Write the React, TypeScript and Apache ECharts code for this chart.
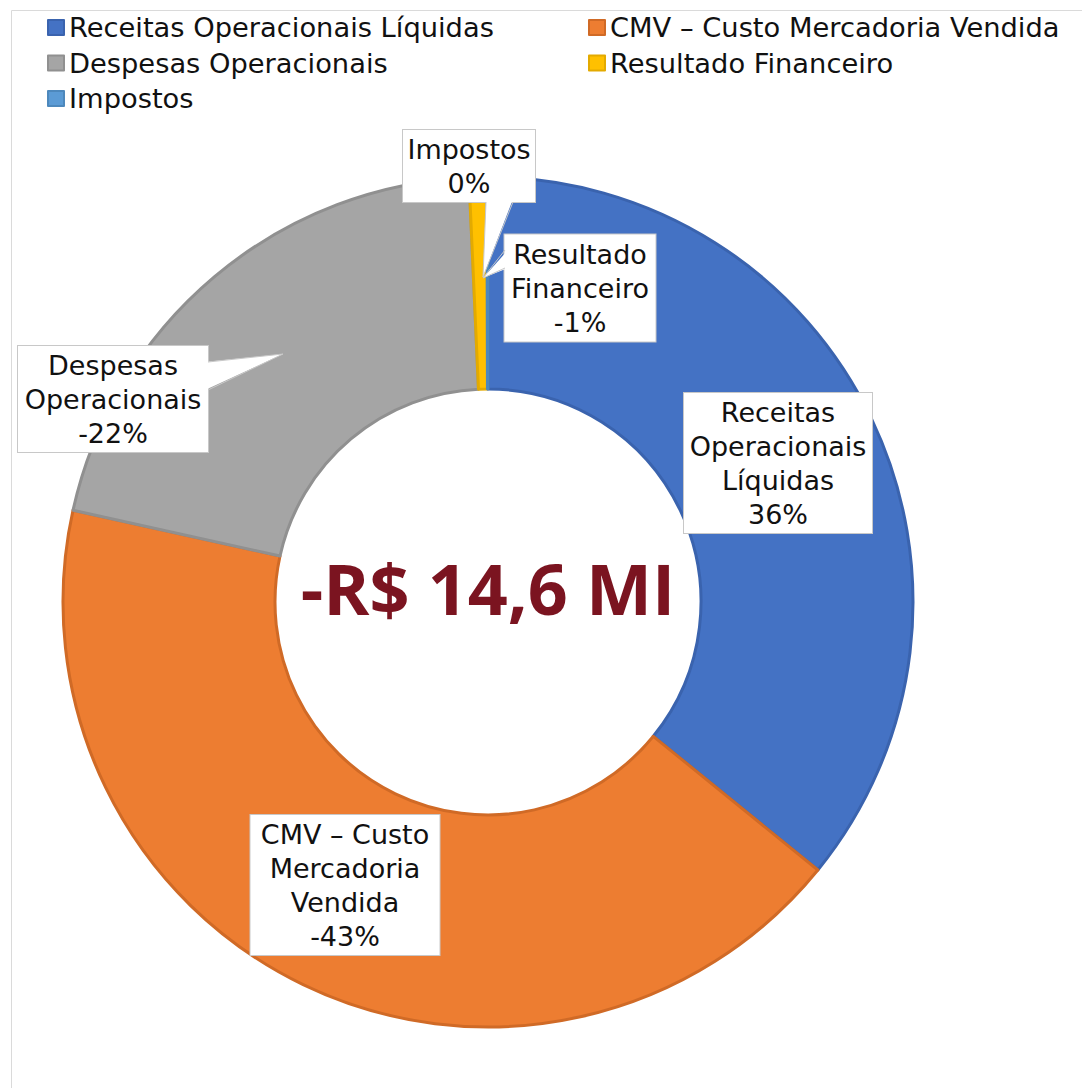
import React, { useEffect, useRef } from "react";
import * as echarts from "echarts";

// ---- data ----
const categories = [
  "Receitas Operacionais Líquidas",
  "CMV – Custo Mercadoria Vendida",
  "Despesas Operacionais",
  "Resultado Financeiro",
  "Impostos",
];
// signed values, R$ millions
const values = [18.6, -22.1, -10.8, -0.35, -0.02];
const pctLabels = ["36%", "-43%", "-22%", "-1%", "0%"];
const labelNames = [
  "Receitas\nOperacionais\nLíquidas",
  "CMV – Custo\nMercadoria\nVendida",
  "Despesas\nOperacionais",
  "Resultado\nFinanceiro",
  "Impostos",
];
const centerText = "-R$ 14,6 MI";

// ---- styles / layout ----
const colors = ["#4472C4", "#ED7D31", "#A5A5A5", "#FFC000", "#5B9BD5"];
const borderColors = ["#3A63AE", "#D06A26", "#909090", "#E3AA00", "#4D88BC"];
const boxes = [
  { cx: 778, cy: 463, w: 188, h: 140 },
  { cx: 345, cy: 885, w: 189, h: 140 },
  { cx: 113, cy: 399, w: 190, h: 106 },
  { cx: 580, cy: 288, w: 151, h: 107 },
  { cx: 469, cy: 166, w: 132, h: 72 },
];
const LH = 34;
const FONT = "DejaVu Sans";
const tailStroke = "#C8C8C8";

export default function App() {
  const ref = useRef<HTMLDivElement>(null);
  useEffect(() => {
    if (!ref.current) return;
    const chart = echarts.init(ref.current, undefined, { renderer: "svg" });

    const data = categories.map((name, i) => {
      const lines = labelNames[i].split("\n").length + 1;
      const padY = Math.max(0, (boxes[i].h - lines * LH) / 2);
      return {
        name,
        value: Math.abs(values[i]),
        itemStyle: { color: colors[i], borderColor: borderColors[i] },
        label: {
          formatter: labelNames[i] + "\n" + pctLabels[i],
          width: boxes[i].w - 8,
          overflow: "none",
          padding: [padY, 4, padY, 4],
        },
      };
    });

    const tails = [
      // Despesas
      { poly: [[205, 362], [283, 354], [205, 390]], line: [[208, 362], [283, 354], [208, 390]] },
      // Resultado
      { poly: [[508, 250], [483, 278], [508, 268]], line: [[505, 250], [483, 278], [505, 268]] },
      // Impostos
      { poly: [[486, 199], [483, 277], [513, 199]], line: [[486, 202], [483, 277], [513, 202]] },
    ];
    const tailGraphics: any[] = [];
    tails.forEach((t) => {
      tailGraphics.push({
        type: "polygon",
        z: 100,
        shape: { points: t.poly },
        style: { fill: "#fff", stroke: null },
      });
      tailGraphics.push({
        type: "polyline",
        z: 101,
        shape: { points: t.line },
        style: { stroke: tailStroke, lineWidth: 1, fill: null },
      });
    });

    const legendText = { fontFamily: FONT, fontSize: 27.3, lineHeight: 26, color: "#111" };

    chart.setOption({
      animation: false,
      backgroundColor: "#fff",
      legend: [
        {
          orient: "vertical",
          left: 47,
          top: 14,
          padding: 0,
          itemGap: 8.5,
          itemWidth: 16,
          itemHeight: 15,
          icon: "rect",
          data: [categories[0], categories[2], categories[4]],
          textStyle: legendText,
        },
        {
          orient: "vertical",
          left: 588,
          top: 14,
          padding: 0,
          itemGap: 8.5,
          itemWidth: 16,
          itemHeight: 15,
          icon: "rect",
          data: [categories[1], categories[3]],
          textStyle: legendText,
        },
      ],
      graphic: [
        {
          type: "rect",
          z: 0,
          shape: { x: 11.5, y: 10.5, width: 1200, height: 1200 },
          style: { fill: null, stroke: "#DADADA", lineWidth: 1 },
          silent: true,
        },
        ...tailGraphics,
        {
          type: "text",
          z: 100,
          x: 488,
          y: 588,
          style: {
            text: centerText,
            fontFamily: "Open Sans",
            fontWeight: "bold",
            fontSize: 70,
            fill: "#7B1420",
            align: "center",
            verticalAlign: "middle",
          },
        },
      ],
      series: [
        {
          type: "pie",
          center: [488, 602],
          radius: [213, 425],
          startAngle: 90,
          clockwise: true,
          avoidLabelOverlap: false,
          itemStyle: { borderWidth: 3 },
          emphasis: { disabled: true },
          labelLine: { show: false },
          label: {
            show: true,
            position: "inside",
            fontFamily: FONT,
            fontSize: 27,
            lineHeight: LH,
            color: "#111",
            align: "center",
            backgroundColor: "#fff",
            borderColor: "#C8C8C8",
            borderWidth: 1,
          },
          labelLayout: (p: any) => {
            const b = boxes[p.dataIndex];
            return { x: b.cx, y: b.cy, align: "center", verticalAlign: "middle" };
          },
          data,
        },
      ],
    });
    return () => chart.dispose();
  }, []);
  return (
    <div
      ref={ref}
      style={{ position: "absolute", left: 0, top: 0, width: 1082, height: 1088 }}
    />
  );
}
